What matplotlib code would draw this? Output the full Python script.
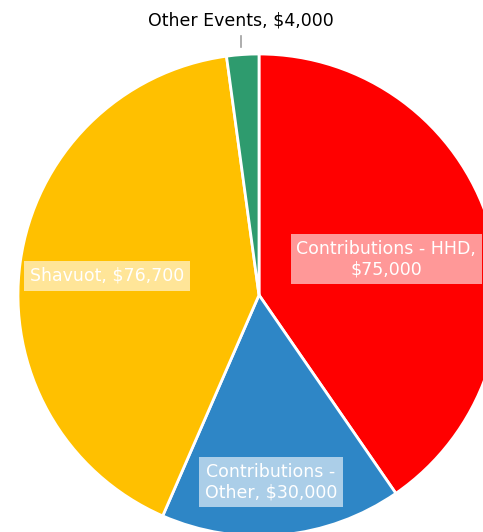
import matplotlib.pyplot as plt

categories = ['Contributions - HHD', 'Contributions - Other', 'Shavuot', 'Other Events']
values = [75000, 30000, 76700, 4000]
colors = ['#FF0000', '#2E86C6', '#FFC000', '#2E9B6E']
label_text = ['Contributions - HHD,\n$75,000', 'Contributions -\nOther, $30,000',
              'Shavuot, $76,700', 'Other Events, $4,000']

W, H = 483, 532
cx, cy, r = 259, 295, 241

fig = plt.figure(figsize=(W / 100, H / 100), dpi=100)
ax = fig.add_axes([(cx - r) / W, (H - cy - r) / H, 2 * r / W, 2 * r / H])
ax.pie(values, colors=colors, startangle=90, counterclock=False, radius=1,
       wedgeprops=dict(edgecolor='white', linewidth=2))
ax.set_xlim(-1, 1)
ax.set_ylim(-1, 1)
ax.set_aspect('equal')
ax.axis('off')

# label positions in pie-radius units
pos = [(0.527, 0.149), (0.05, -0.776), (-0.63, 0.079)]
for txt, (x, y) in zip(label_text[:3], pos):
    ax.text(x, y, txt, ha='center', va='center', color='white', fontsize=12.5,
            linespacing=1.15,
            bbox=dict(boxstyle='square,pad=0.32', facecolor='white', alpha=0.6,
                      edgecolor='none'))

ax.text(-0.075, 1.141, label_text[3], ha='center', va='center', color='black',
        fontsize=12.5, clip_on=False)
ax.plot([-0.075, -0.075], [1.03, 1.075], color='#A0A0A0', lw=1.2, clip_on=False)

fig.savefig('out.png', dpi=100)
